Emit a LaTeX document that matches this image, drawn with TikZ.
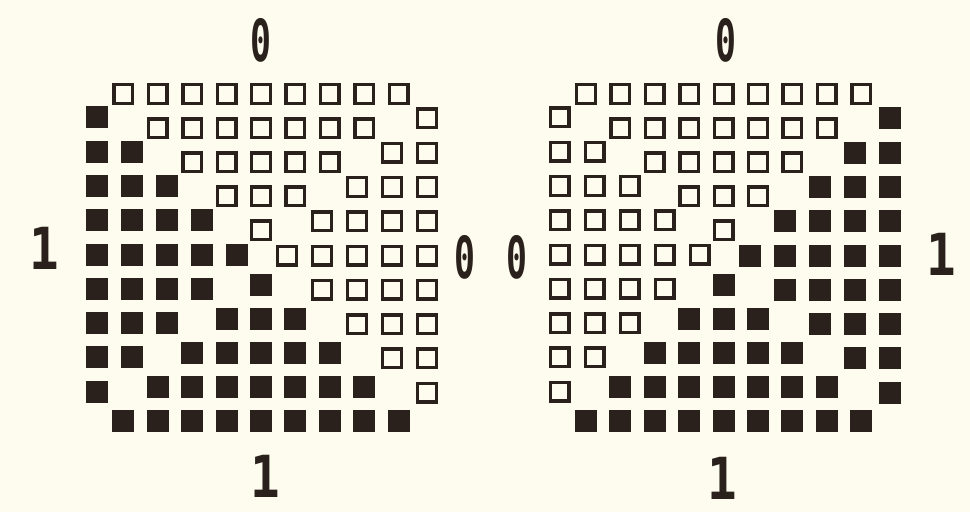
\documentclass[tikz,border=0pt]{standalone}
\usepackage{fontspec}
\newfontfamily\digitfont{DejaVu Sans Mono}
\definecolor{paper}{RGB}{254,252,238}
\definecolor{ink}{RGB}{42,33,28}
\tikzset{
  fsq/.style={rectangle, draw=none, fill=ink, minimum size=22pt, inner sep=0pt, outer sep=0pt},
  osq/.style={rectangle, draw=ink, line width=3.4pt, fill=none, minimum size=18.6pt, inner sep=0pt},
  lbl/.style={font=\digitfont\bfseries\fontsize{58}{58}\selectfont, text=ink, inner sep=0pt},
}
\newcommand\gridsq[4]{%
  \foreach \r in {0,...,10}{%
    \foreach \c in {0,...,10}{%
      \pgfmathtruncatemacro\s{\r+\c}%
      \ifnum\r=\c\relax\else\ifnum\s=10\relax\else
        \ifnum\r<\c\relax
          \ifnum\s<10\relax
            \node[osq] (#1-\r-\c) at ({#2+89+34.4*\c},{94+34.1*\r}) {};
          \else
            \node[#4] (#1-\r-\c) at ({#2+427-35*(10-\c)},{84+34.3*\r}) {};
          \fi
        \else
          \ifnum\s<10\relax
            \node[#3] (#1-\r-\c) at ({#2+97+35*\c},{83+34.3*\r}) {};
          \else
            \node[fsq] (#1-\r-\c) at ({#2+89+34.4*\c},{80+34.1*\r}) {};
          \fi
        \fi
      \fi\fi
    }}%
}
\begin{document}
\begin{tikzpicture}[x=1pt,y=-1pt]
  \fill[paper] (0,0) rectangle (970,512);
  \useasboundingbox (0,0) rectangle (970,512);
  \gridsq{L}{0}{fsq}{osq}
  \gridsq{R}{462.5}{osq}{fsq}
  \node[lbl] (topL) at (261,40) {\scalebox{0.6}[1]{0}};
  \node[lbl] (botL) at (265,476) {\scalebox{0.85}[1]{1}};
  \node[lbl] (leftL) at (44,248) {\scalebox{0.85}[1]{1}};
  \node[lbl] (rightL) at (465,257) {\scalebox{0.6}[1]{0}};
  \node[lbl] (leftR) at (517,257) {\scalebox{0.6}[1]{0}};
  \node[lbl] (rightR) at (941,254) {\scalebox{0.85}[1]{1}};
  \node[lbl] (topR) at (726,40) {\scalebox{0.6}[1]{0}};
  \node[lbl] (botR) at (722,478) {\scalebox{0.85}[1]{1}};
\end{tikzpicture}
\end{document}
